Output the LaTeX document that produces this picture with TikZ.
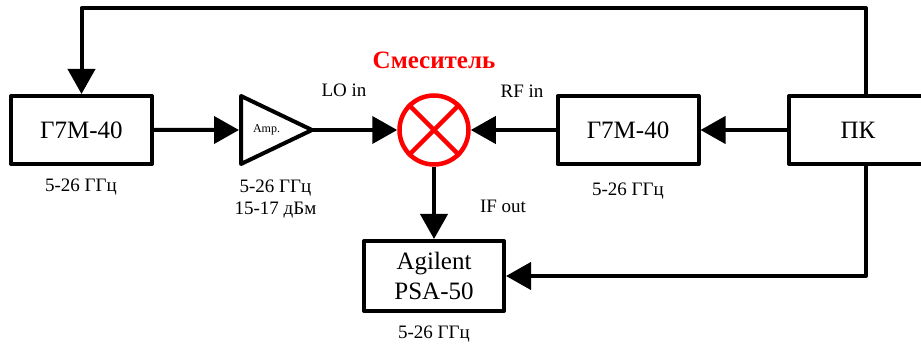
\documentclass[tikz,border=0pt]{standalone}
\usepackage{fontspec}
\setmainfont{Liberation Serif}
\usetikzlibrary{arrows.meta,positioning,shapes.geometric}
\tikzset{
    scheme/.style={x=1pt,y=-1pt,line width=4pt,line join=round},
    block/.style={rectangle,draw,fill=white,minimum width=141pt,minimum height=68pt,
                     inner sep=0pt,align=center,font=\fontsize{25}{30}\selectfont},
    amp/.style={isosceles triangle,isosceles triangle stretches,draw,fill=white,
                     minimum width=68pt,minimum height=71pt,inner sep=0pt,anchor=lower side,
                     font=\fontsize{12}{14}\selectfont},
    mixer/.style={circle,draw=red,fill=white,line width=4.5pt,minimum size=69pt,inner sep=0pt},
    capt/.style={inner sep=0pt,align=center,font=\fontsize{19}{22}\selectfont},
    port/.style={inner sep=0pt,font=\fontsize{19}{22}\selectfont},
    wire/.style={-{Triangle[length=25pt,width=27pt]}},
    }
\begin{document}
\begin{tikzpicture}[scheme]
            \useasboundingbox (0,0) rectangle (921,347);
            \node[block] (g1) at (81.5,130) {Г7М-40};
            \node[amp] (amp) at (239,130) {\hspace*{3pt}Amp.};
            \node[mixer] (mix) at (434,130) {};
            \node[block] (g2) at (628,130) {Г7М-40};
            \node[block,minimum width=138pt] (pc) at (858,130) {ПК};
            \node[block,minimum width=140pt,minimum height=70pt] (psa) at (434,276) {Agilent\\PSA-50};
            \coordinate (top) at (866,8);

            \node[capt] (c1) at (81,187) {5-26 ГГц};
            \node[capt] (c2) at (275.5,199) {5-26 ГГц\\15-17 дБм};
            \node[capt] (c3) at (628,191) {5-26 ГГц};
            \node[capt] (c4) at (434,334) {5-26 ГГц};
            \node[inner sep=0pt,text=red,font=\fontsize{25}{30}\selectfont\bfseries] (title) at (434,60) {Смеситель};
            \node[port] (lo) at (344,90) {LO in};
            \node[port] (rf) at (522,91) {RF in};
            \node[port] (if) at (503,206) {IF out};

            \draw[red,line width=4.5pt] (mix.45) -- (mix.225);
            \draw[red,line width=4.5pt] (mix.135) -- (mix.315);

            \path[wire] (g1) edge[] (amp);
            \path[wire] (amp.apex) edge[shorten <=-6pt] (mix);
            \path[wire] (g2) edge[] (mix);
            \path[wire] (pc) edge[] (g2);
            \path[wire] (mix) edge[] (psa);
            \draw[wire] ([xshift=8pt]pc.north) -- (top) -| (g1.north);
            \draw[wire] ([xshift=8pt]pc.south) |- (psa.east);
        \end{tikzpicture}
\end{document}
